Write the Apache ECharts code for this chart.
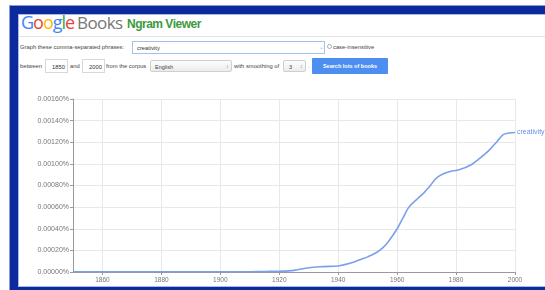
<!DOCTYPE html>
<html>
<head>
<meta charset="utf-8">
<script src="https://cdn.jsdelivr.net/npm/echarts@6/dist/echarts.min.js"></script>
<style>
  html, body { margin: 0; padding: 0; background: #fff; }
  body { width: 545px; height: 290px; overflow: hidden; position: relative; font-family: 'Liberation Sans', Arial, sans-serif; color: #333; }
  .frame { position: absolute; left: 10px; top: 6px; width: 560px; height: 289px; box-sizing: border-box;
    border: 8px solid #0b2a9c; box-shadow: 0 0 0 1px #8e96dc, inset 0 0 0 1px #aab6ee; }
  .abs { position: absolute; white-space: nowrap; }
  .logo { left: 21px; top: 10px; font-size: 18px; letter-spacing: -1px; font-family: 'Open Sans', Arial, sans-serif; }
  .books { left: 77px; top: 11px; font-size: 17px; color: #777; letter-spacing: -0.6px; font-family: 'Open Sans', Arial, sans-serif; }
  .ngram { left: 127px; top: 17px; font-size: 12px; font-weight: bold; color: #3c9a3c; letter-spacing: -0.5px; }
  .rule { left: 19px; top: 36px; width: 530px; height: 1px; background: #e2e2e2; }
  .sm { font-size: 5.8px; color: #444; }
  .box { position: absolute; box-sizing: border-box; border: 1px solid #d8d8d8; background: #fff; font-size: 5.8px; color: #333; }
  .sel { position: absolute; box-sizing: border-box; border: 1px solid #cfcfcf; border-radius: 2px; background: linear-gradient(#fdfdfd, #ececec); font-size: 5.5px; color: #444; }
  .btn { left: 312px; top: 58px; width: 76px; height: 16px; background: #4d8ff0; color: #fff; font-size: 5.5px; font-weight: bold; text-align: center; line-height: 16px; border-radius: 1px; }
  #chart { position: absolute; left: 0; top: 0; width: 545px; height: 290px; }
</style>
</head>
<body>
<div class="frame"></div>
<div class="abs logo"><span style="color:#4285f4">G</span><span style="color:#ea4335">o</span><span style="color:#fbbc05">o</span><span style="color:#4285f4">g</span><span style="color:#34a853">l</span><span style="color:#ea4335">e</span></div>
<div class="abs books">Books</div>
<div class="abs ngram">Ngram Viewer</div>
<div class="abs rule"></div>

<div class="abs sm" style="left:20px;top:44px;">Graph these comma-separated phrases:</div>
<div class="box" style="left:132px;top:41px;width:193px;height:13px;border-color:#9ec0f3;">
  <span class="abs" style="left:4px;top:3px;">creativity</span>
  <span class="abs" style="left:186px;top:2px;color:#aaa;">&#8964;</span>
</div>
<div class="abs" style="left:327px;top:44px;width:5px;height:5px;border:1px solid #aaa;border-radius:50%;box-sizing:border-box;"></div>
<div class="abs sm" style="left:333px;top:44px;">case-insensitive</div>

<div class="abs sm" style="left:20px;top:63px;">between</div>
<div class="box" style="left:45px;top:59px;width:23px;height:14px;"><span class="abs" style="left:6px;top:4px;">1850</span></div>
<div class="abs sm" style="left:70px;top:63px;">and</div>
<div class="box" style="left:82px;top:59px;width:23px;height:14px;"><span class="abs" style="left:6px;top:4px;">2000</span></div>
<div class="abs sm" style="left:106px;top:63px;">from the corpus</div>
<div class="sel" style="left:150px;top:60px;width:82px;height:12px;">
  <span class="abs" style="left:4px;top:3px;">English</span>
  <span class="abs" style="left:75px;top:2px;color:#888;">&#8597;</span>
</div>
<div class="abs sm" style="left:234px;top:63px;">with smoothing of</div>
<div class="sel" style="left:283px;top:60px;width:23px;height:12px;">
  <span class="abs" style="left:5px;top:3px;">3</span>
  <span class="abs" style="left:16px;top:2px;color:#888;">&#8597;</span>
</div>
<div class="abs sm" style="left:308px;top:63px;">.</div>
<div class="abs btn">Search lots of books</div>

<div id="chart"></div>
<script>
const years = [1850, 1860, 1870, 1880, 1890, 1900, 1910, 1915, 1920, 1925, 1930, 1935, 1940, 1944, 1948, 1950,
  1953, 1955, 1957, 1960, 1962, 1964, 1967, 1969, 1971, 1973, 1975, 1978, 1981, 1985, 1988, 1991, 1994, 1996, 1998, 2000]
const creativity = [0.000002, 0.000002, 0.000002, 0.000002, 0.000002, 0.000002, 0.000003, 0.000005, 0.000007, 0.000015,
  0.00004, 0.00005, 0.000056, 0.00008, 0.00012, 0.00014, 0.00018, 0.00022, 0.00028, 0.0004, 0.0005, 0.0006,
  0.00068, 0.00073, 0.00079, 0.00086, 0.0009, 0.00093, 0.000945, 0.00099, 0.00105, 0.00112, 0.00121, 0.00127,
  0.001285, 0.00129]
const tickYears = [1860, 1880, 1900, 1920, 1940, 1960, 1980, 2000]
const seriesName = 'creativity'

const chart = echarts.init(document.getElementById('chart'), null, { renderer: 'canvas' })
chart.setOption({
  animation: false,
  backgroundColor: 'transparent',
  grid: { left: 73, right: 30, top: 99, bottom: 18 },
  xAxis: {
    type: 'value',
    min: 1850,
    max: 2000,
    interval: 10,
    axisLine: { show: true, lineStyle: { color: '#999', width: 1 } },
    axisTick: { show: true, customValues: tickYears, length: 3, lineStyle: { color: '#999' } },
    axisLabel: {
      customValues: tickYears,
      color: '#777', fontSize: 6.5, margin: 5,
      fontFamily: 'Liberation Sans, Arial, sans-serif',
      formatter: (v) => (v % 20 === 0 ? String(v) : ''),
    },
    splitLine: { show: true, lineStyle: { color: '#e8e8e8', width: 1 } },
  },
  yAxis: {
    type: 'value',
    min: 0,
    max: 0.0016,
    interval: 0.0002,
    axisLine: { show: true, lineStyle: { color: '#999', width: 1 } },
    axisTick: { show: true, length: 3, lineStyle: { color: '#999' } },
    axisLabel: {
      color: '#777', fontSize: 7, margin: 4,
      fontFamily: 'Liberation Sans, Arial, sans-serif',
      formatter: (v) => v.toFixed(5) + '%',
    },
    splitLine: { show: true, lineStyle: { color: '#e8e8e8', width: 1 } },
  },
  series: [
    {
      name: seriesName,
      type: 'line',
      data: years.map((y, i) => [y, creativity[i]]),
      smooth: 0.35,
      symbol: 'none',
      z: 5,
      lineStyle: { color: '#7ba0ea', width: 1.6 },
      endLabel: {
        show: true,
        formatter: seriesName,
        color: '#6a8ee6',
        fontSize: 7,
        distance: 2,
        fontFamily: 'Liberation Sans, Arial, sans-serif',
      },
    },
  ],
})
</script>
</body>
</html>
